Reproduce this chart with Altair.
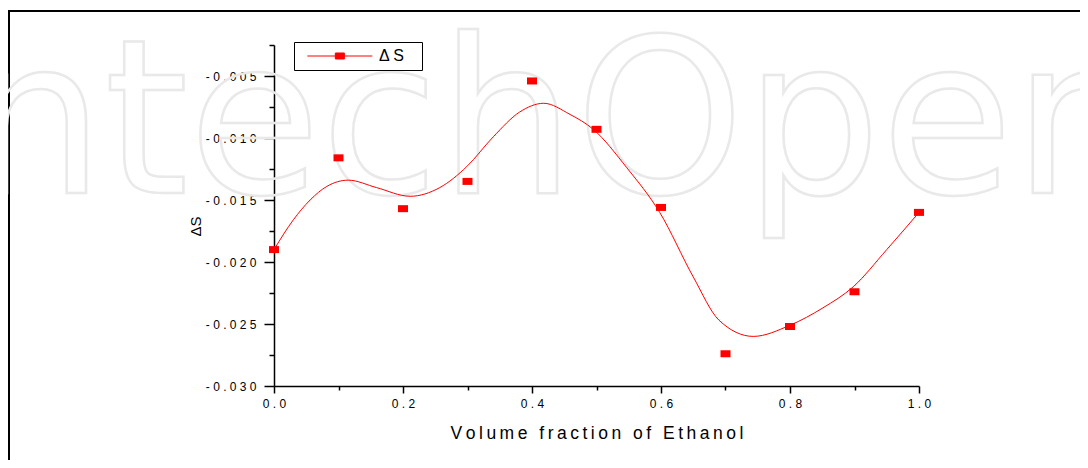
import altair as alt
import pandas as pd

# Measured points (Volume fraction of Ethanol vs ΔS)
x_points = [0.0, 0.1, 0.2, 0.3, 0.4, 0.5, 0.6, 0.7, 0.8, 0.9, 1.0]
y_points = [-0.0190, -0.0116, -0.0157, -0.0135, -0.0054, -0.0093, -0.0156, -0.0274, -0.0252, -0.0224, -0.0160]

# Fitted smooth curve
x_curve = [0.000, 0.030, 0.056, 0.082, 0.115, 0.159, 0.211, 0.257, 0.299, 0.340, 0.381,
           0.418, 0.459, 0.495, 0.547, 0.598, 0.650, 0.690, 0.743, 0.800, 0.851, 0.898, 0.950, 1.000]
y_curve = [-0.0190, -0.0166, -0.0150, -0.0139, -0.0134, -0.0140, -0.0147, -0.0140, -0.0123, -0.0099, -0.0079,
           -0.0072, -0.0081, -0.0093, -0.0124, -0.0160, -0.0212, -0.0247, -0.0260, -0.0251, -0.0237, -0.0220, -0.0190, -0.0160]

x_ticks = [0.0, 0.1, 0.2, 0.3, 0.4, 0.5, 0.6, 0.7, 0.8, 0.9, 1.0]
y_ticks = [-0.03, -0.0275, -0.025, -0.0225, -0.02, -0.0175, -0.015, -0.0125, -0.01, -0.0075, -0.005, -0.0025]

series_name = "Δ S"
x_title = "Volume fraction of Ethanol"
y_title = "ΔS"
watermark = "ntechOpen"

RED = "#ff0000"
FONT = "Liberation Sans"

pts = pd.DataFrame({"x": x_points, "y": y_points, "series": series_name})
crv = pd.DataFrame({"x": x_curve, "y": y_curve})
one = pd.DataFrame({"k": [0]})

spaced_x_title = "\u2009".join(list(x_title))

x_scale = alt.Scale(domain=[0, 1], nice=False, zero=False)
y_scale = alt.Scale(domain=[-0.030, -0.0025], nice=False, zero=False)

x_axis = alt.Axis(
    title=spaced_x_title,
    values=x_ticks,
    labelExpr="round(datum.value*10) % 2 == 0 ? join(split(format(datum.value,'.1f'),''),' ') : ''",
    tickSize={"condition": {"test": "round(datum.value*10) % 2 == 0", "value": 7}, "value": 4},
    labelPadding=5,
    labelFontSize=12,
    labelFont=FONT,
    labelColor="black",
    labelOverlap=False,
    labelFlush=False,
    titleFont=FONT,
    titleFontSize=17.5,
    titleFontWeight="normal",
    titleColor="black",
    titleX=322.5,
    titleY=38,
    titleAlign="center",
    titleBaseline="top",
    domainColor="black",
    domainWidth=1.5,
    tickColor="black",
    tickWidth=1.5,
    grid=False,
)

y_axis = alt.Axis(
    title=y_title,
    values=y_ticks,
    labelExpr="round(datum.value*400) % 2 == 0 ? join(split(replace(format(datum.value,'.3f'),'\u2212','-'),''),' ') : ''",
    tickSize={"condition": {"test": "round(datum.value*400) % 2 == 0", "value": 10}, "value": 5},
    labelPadding=8,
    labelFontSize=12,
    labelFont=FONT,
    labelColor="black",
    labelOverlap=False,
    labelFlush=False,
    titleFont=FONT,
    titleFontSize=15,
    titleFontWeight="normal",
    titleColor="black",
    titleAngle=270,
    titleX=-79,
    titleY=181,
    titleAlign="center",
    titleBaseline="middle",
    domainColor="black",
    domainWidth=1.5,
    tickColor="black",
    tickWidth=1.5,
    grid=False,
)

frame = alt.Chart(one).mark_rect(fillOpacity=0, stroke="black", strokeWidth=2).encode(
    x=alt.value(-265), x2=alt.value(2000), y=alt.value(-34), y2=alt.value(2000)
)

wm = alt.Chart(one).mark_text(
    text=watermark, font="DejaVu Sans", fontSize=215, align="left", baseline="alphabetic",
    fillOpacity=0, stroke="#e9e9e9", strokeWidth=2.5
).encode(x=alt.value(-306), y=alt.value(148))

line = alt.Chart(crv).mark_line(color=RED, strokeWidth=1, interpolate="monotone").encode(
    x=alt.X("x:Q", scale=x_scale, axis=x_axis),
    y=alt.Y("y:Q", scale=y_scale, axis=y_axis),
)

legend = alt.Legend(
    title="\u200b",
    titleOrient="right",
    titlePadding=11,
    titleFontSize=16,
    orient="none",
    legendX=20,
    legendY=-3,
    strokeColor="black",
    padding=6,
    clipHeight=16,
    symbolType="M-0.813,0H1M-0.033,-0.084H0.219V0.084H-0.033Z",
    symbolSize=5141,
    symbolStrokeColor=RED,
    symbolFillColor=RED,
    symbolStrokeWidth=1,
    symbolOpacity=1,
    labelFont=FONT,
    labelFontSize=16,
    labelColor="black",
    labelOffset=6,
)

points = alt.Chart(pts).mark_point(
    shape="M-1,-0.7H1V0.7H-1Z", filled=True, size=100, opacity=1
).encode(
    x=alt.X("x:Q", scale=x_scale, axis=x_axis),
    y=alt.Y("y:Q", scale=y_scale, axis=y_axis),
    color=alt.Color("series:N", scale=alt.Scale(domain=[series_name], range=[RED]), legend=legend),
)

chart = alt.layer(frame, wm, line, points).properties(
    width=645,
    height=341,
    autosize=alt.AutoSizeParams(type="none"),
    padding={"left": 266, "top": 37, "right": 161, "bottom": 74},
    background="white",
).configure_view(stroke=None)

chart.save("out.html", embed_options={"renderer": "svg", "actions": False})
